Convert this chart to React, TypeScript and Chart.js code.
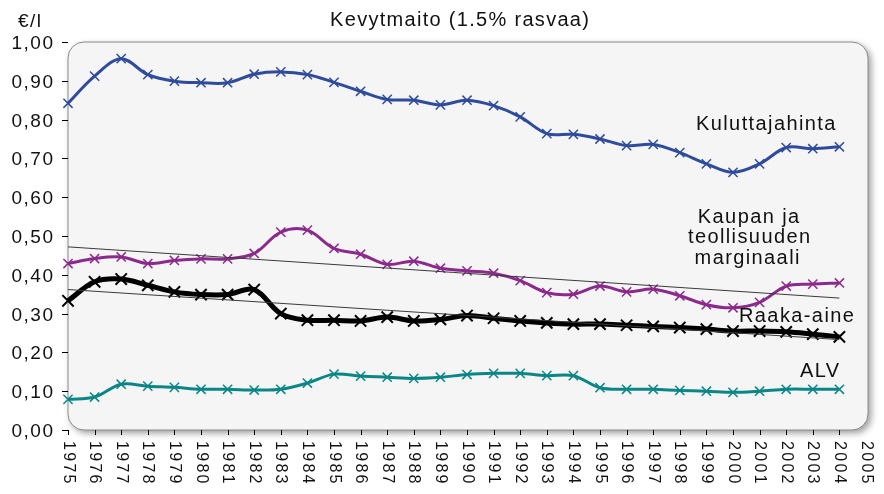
import React, { useEffect, useRef } from "react";
import { Chart, registerables } from "chart.js";
Chart.register(...registerables);

const years = [1975, 1976, 1977, 1978, 1979, 1980, 1981, 1982, 1983, 1984, 1985, 1986, 1987, 1988, 1989, 1990, 1991, 1992, 1993, 1994, 1995, 1996, 1997, 1998, 1999, 2000, 2001, 2002, 2003, 2004];
const xTickYears = [1975, 1976, 1977, 1978, 1979, 1980, 1981, 1982, 1983, 1984, 1985, 1986, 1987, 1988, 1989, 1990, 1991, 1992, 1993, 1994, 1995, 1996, 1997, 1998, 1999, 2000, 2001, 2002, 2003, 2004, 2005];
const yTicks = [0, 0.1, 0.2, 0.3, 0.4, 0.5, 0.6, 0.7, 0.8, 0.9, 1.0];
const yTickLabels = ["0,00", "0,10", "0,20", "0,30", "0,40", "0,50", "0,60", "0,70", "0,80", "0,90", "1,00"];

const kuluttajahinta = [0.842, 0.912, 0.957, 0.916, 0.899, 0.895, 0.895, 0.917, 0.923, 0.916, 0.896, 0.873, 0.852, 0.850, 0.838, 0.850, 0.836, 0.807, 0.764, 0.762, 0.750, 0.733, 0.736, 0.715, 0.686, 0.664, 0.686, 0.728, 0.725, 0.730];
const marginaali = [0.429, 0.442, 0.446, 0.429, 0.437, 0.441, 0.441, 0.455, 0.510, 0.515, 0.468, 0.453, 0.427, 0.435, 0.417, 0.410, 0.404, 0.385, 0.354, 0.350, 0.371, 0.356, 0.363, 0.346, 0.323, 0.315, 0.329, 0.371, 0.376, 0.379];
const raakaAine = [0.333, 0.382, 0.389, 0.373, 0.356, 0.349, 0.349, 0.362, 0.300, 0.283, 0.283, 0.281, 0.291, 0.281, 0.285, 0.295, 0.288, 0.281, 0.276, 0.273, 0.273, 0.270, 0.267, 0.264, 0.260, 0.255, 0.255, 0.253, 0.247, 0.240];
const alv = [0.079, 0.085, 0.118, 0.113, 0.110, 0.105, 0.105, 0.103, 0.105, 0.121, 0.144, 0.139, 0.136, 0.133, 0.136, 0.143, 0.146, 0.146, 0.140, 0.140, 0.109, 0.105, 0.105, 0.102, 0.100, 0.097, 0.100, 0.105, 0.105, 0.105];
const trendYears = [1975, 2004];
const marginaaliTrend = [0.472, 0.340];
const raakaAineTrend = [0.362, 0.233];

const title = "Kevytmaito (1.5% rasvaa)";
const unitLabel = "€/l";

const FONT = '"Liberation Sans", Arial, Helvetica, sans-serif';

function drawText(ctx: CanvasRenderingContext2D, s: string, x: number, y: number, size: number, align: CanvasTextAlign, spacing: number) {
  ctx.save();
  ctx.font = `${size}px ${FONT}`;
  (ctx as any).letterSpacing = spacing + "px";
  ctx.textAlign = align;
  ctx.textBaseline = "alphabetic";
  ctx.fillStyle = "#111";
  let dx = 0;
  if (align === "right") dx = spacing;
  if (align === "center") dx = spacing / 2;
  ctx.fillText(s, x + dx, y);
  ctx.restore();
}

const pts = (xs: number[], ys: number[]) => xs.map((x, i) => ({ x, y: ys[i] }));

const framePlugin = {
  id: "frame",
  beforeDatasetsDraw(chart: any) {
    const ctx: CanvasRenderingContext2D = chart.ctx;
    const { left, top, right, bottom } = chart.chartArea;
    ctx.save();
    ctx.beginPath();
    (ctx as any).roundRect(left, top, right + 2 - left, bottom - top, 16);
    ctx.shadowColor = "rgba(0,0,0,0.4)";
    ctx.shadowBlur = 7;
    ctx.shadowOffsetX = 3;
    ctx.shadowOffsetY = 3;
    ctx.fillStyle = "#f5f5f5";
    ctx.fill();
    ctx.shadowColor = "transparent";
    ctx.strokeStyle = "#8a8a8a";
    ctx.lineWidth = 1;
    ctx.stroke();
    ctx.restore();

    const ys = chart.scales.y;
    const xs = chart.scales.x;
    ctx.save();
    ctx.strokeStyle = "#000";
    ctx.lineWidth = 1;
    ctx.beginPath();
    yTicks.forEach((v) => {
      const py = Math.round(ys.getPixelForValue(v)) + 0.5;
      ctx.moveTo(left - 6, py);
      ctx.lineTo(left, py);
    });
    xTickYears.slice(0, 30).forEach((yr) => {
      const px = Math.round(xs.getPixelForValue(yr)) + 0.5;
      ctx.moveTo(px, bottom);
      ctx.lineTo(px, bottom + 5);
    });
    ctx.stroke();
    ctx.restore();

    yTicks.forEach((v, i) => {
      drawText(ctx, yTickLabels[i], 53, ys.getPixelForValue(v) + 7, 19, "right", 1.5);
    });
    xTickYears.forEach((yr) => {
      const px = xs.getPixelForValue(yr);
      ctx.save();
      ctx.translate(px, 441);
      ctx.rotate(Math.PI / 2);
      ctx.font = `16px ${FONT}`;
      (ctx as any).letterSpacing = "2.3px";
      ctx.textAlign = "left";
      ctx.textBaseline = "middle";
      ctx.fillStyle = "#111";
      ctx.fillText(String(yr), 0, 0);
      ctx.restore();
    });
    drawText(ctx, title, 459.5, 26, 20, "center", 1.3);
    drawText(ctx, unitLabel, 18, 26.5, 19, "left", 1.5);
  },
  afterDatasetsDraw(chart: any) {
    const ctx: CanvasRenderingContext2D = chart.ctx;
    drawText(ctx, "Kuluttajahinta", 696, 130, 20, "left", 1.4);
    drawText(ctx, "Kaupan ja", 748.5, 222.5, 20, "center", 1.4);
    drawText(ctx, "teollisuuden", 749, 243, 20, "center", 1.4);
    drawText(ctx, "marginaali", 747, 263.5, 20, "center", 1.4);
    drawText(ctx, "Raaka-aine", 739, 321.5, 20, "left", 1.4);
    drawText(ctx, "ALV", 800, 376.5, 20, "left", 1.4);
  },
};

const series = (data: number[], color: string, lw: number, r: number, pbw: number) => ({
  data: pts(years, data),
  borderColor: color,
  backgroundColor: color,
  borderWidth: lw,
  tension: 0.35,
  pointStyle: "crossRot" as const,
  pointRadius: r,
  pointBorderColor: color,
  pointBackgroundColor: color,
  pointBorderWidth: pbw,
  clip: false as const,
  order: 1,
});

export default function App() {
  const ref = useRef<HTMLCanvasElement | null>(null);
  useEffect(() => {
    if (!ref.current) return;
    document.body.style.margin = "0";
    const chart = new Chart(ref.current, {
      type: "line",
      data: {
        datasets: [
          {
            data: pts(trendYears, marginaaliTrend),
            borderColor: "#3a3a3a",
            borderWidth: 1,
            pointRadius: 0,
            tension: 0,
            clip: false,
            order: 0,
          },
          {
            data: pts(trendYears, raakaAineTrend),
            borderColor: "#3a3a3a",
            borderWidth: 1,
            pointRadius: 0,
            tension: 0,
            clip: false,
            order: 0,
          },
          series(kuluttajahinta, "#2f4b9c", 3, 6.5, 1.5),
          series(marginaali, "#8b2a8c", 3, 6.5, 1.5),
          series(raakaAine, "#000000", 5, 8, 2),
          series(alv, "#0b8686", 3, 6.5, 1.5),
        ] as any,
      },
      options: {
        responsive: false,
        animation: false,
        layout: { padding: { left: 68, right: 18, top: 42, bottom: 64 } },
        plugins: { legend: { display: false }, tooltip: { enabled: false }, title: { display: false } },
        scales: {
          x: { type: "linear", min: 1975, max: 2005, display: false },
          y: { type: "linear", min: 0, max: 1, display: false },
        },
      },
      plugins: [framePlugin],
    });
    return () => chart.destroy();
  }, []);
  return (
    <div style={{ position: "absolute", left: 0, top: 0, width: 884, height: 494, background: "#fff" }}>
      <canvas ref={ref} width={884} height={494} style={{ display: "block" }} />
    </div>
  );
}
